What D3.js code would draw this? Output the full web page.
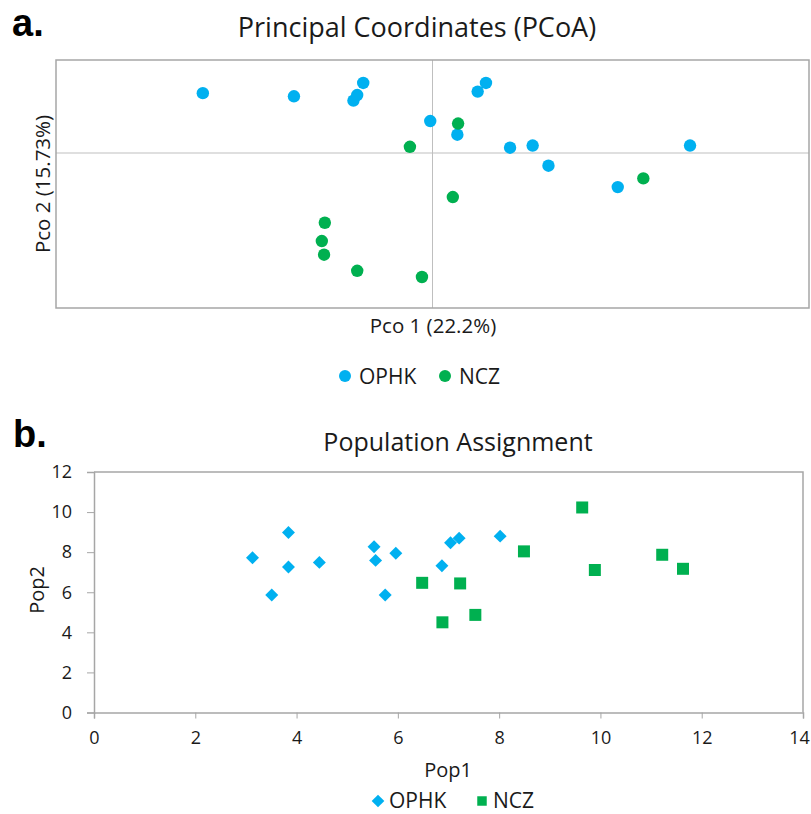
<!DOCTYPE html>
<html>
<head>
<meta charset="utf-8">
<script src="https://cdn.jsdelivr.net/npm/d3@7"></script>
<style>
  body { margin: 0; background: #fff; }
  text { font-family: "Open Sans", "Noto Sans", sans-serif; fill: #1a1a1a; }
  text.panel { font-family: "Liberation Sans", Arial, sans-serif; font-weight: bold; fill: #000; }
</style>
</head>
<body>
<div id="chart"></div>
<script>
const width = 811;
const height = 814;

const blue = "#00B0F0";
const green = "#00B050";

// panel a: PCoA scores (no scale shown)
const pcoaOPHK_x = [-0.305, -0.184, -0.105, -0.100, -0.092, -0.003, 0.033, 0.060, 0.071, 0.103, 0.133, 0.154, 0.246, 0.342];
const pcoaOPHK_y = [0.193, 0.183, 0.169, 0.187, 0.226, 0.103, 0.059, 0.198, 0.226, 0.017, 0.024, -0.041, -0.110, 0.024];
const pcoaNCZ_x = [-0.030, -0.143, -0.147, -0.144, -0.100, 0.034, 0.027, -0.014, 0.280];
const pcoaNCZ_y = [0.020, -0.225, -0.284, -0.328, -0.380, 0.095, -0.142, -0.400, -0.082];

// panel b: population assignment
const popOPHK_x = [3.13, 3.51, 3.84, 3.84, 4.45, 5.53, 5.56, 5.96, 5.75, 6.87, 7.04, 7.21, 8.02];
const popOPHK_y = [7.72, 5.86, 8.98, 7.26, 7.49, 8.27, 7.59, 7.95, 5.86, 7.32, 8.47, 8.70, 8.80];
const popNCZ_x = [6.48, 7.23, 6.88, 7.53, 8.49, 9.64, 9.89, 11.22, 11.63];
const popNCZ_y = [6.47, 6.44, 4.50, 4.87, 8.04, 10.23, 7.11, 7.87, 7.17];

const xTicks = [0, 2, 4, 6, 8, 10, 12, 14];
const yTicks = [0, 2, 4, 6, 8, 10, 12];

const series = ["OPHK", "NCZ"];

const svg = d3.select("#chart")
  .append("svg")
  .attr("width", width)
  .attr("height", height);

// ---------- panel a ----------
let ax = d3.scaleLinear().domain([-0.5, 0.5]).range([56, 809]);
let ay = d3.scaleLinear().domain([-0.5, 0.3]).range([308, 60]);

svg.append("text")
  .attr("class", "panel")
  .attr("x", 12).attr("y", 36)
  .style("font-size", "38px")
  .text("a.");

svg.append("text")
  .attr("x", 417).attr("y", 37)
  .attr("text-anchor", "middle")
  .style("font-size", "27px")
  .text("Principal Coordinates (PCoA)");

// zero lines
svg.append("line")
  .attr("x1", ax(-0.5)).attr("x2", ax(0.5))
  .attr("y1", ay(0)).attr("y2", ay(0))
  .attr("stroke", "#bfbfbf").attr("stroke-width", 1);
svg.append("line")
  .attr("x1", ax(0)).attr("x2", ax(0))
  .attr("y1", ay(-0.5)).attr("y2", ay(0.3))
  .attr("stroke", "#bfbfbf").attr("stroke-width", 1);

svg.append("rect")
  .attr("x", ax(-0.5)).attr("y", ay(0.3))
  .attr("width", ax(0.5) - ax(-0.5))
  .attr("height", ay(-0.5) - ay(0.3))
  .attr("fill", "none")
  .attr("stroke", "#a6a6a6").attr("stroke-width", 1.5);

svg.append("g").selectAll("circle")
  .data(d3.range(pcoaOPHK_x.length)).enter()
  .append("circle")
  .attr("cx", i => ax(pcoaOPHK_x[i]))
  .attr("cy", i => ay(pcoaOPHK_y[i]))
  .attr("r", 6.2)
  .attr("fill", blue);

svg.append("g").selectAll("circle")
  .data(d3.range(pcoaNCZ_x.length)).enter()
  .append("circle")
  .attr("cx", i => ax(pcoaNCZ_x[i]))
  .attr("cy", i => ay(pcoaNCZ_y[i]))
  .attr("r", 6.2)
  .attr("fill", green);

svg.append("text")
  .attr("x", 433).attr("y", 333)
  .attr("text-anchor", "middle")
  .style("font-size", "20.5px")
  .text("Pco 1 (22.2%)");

svg.append("text")
  .attr("transform", "rotate(-90)")
  .attr("x", -184).attr("y", 50)
  .attr("text-anchor", "middle")
  .style("font-size", "20.5px")
  .text("Pco 2 (15.73%)");

// legend a
const legA = svg.append("g");
[[345, blue, "OPHK"], [445, green, "NCZ"]].forEach(d => {
  legA.append("circle").attr("cx", d[0]).attr("cy", 376).attr("r", 6).attr("fill", d[1]);
  legA.append("text").attr("x", d[0] + 14).attr("y", 384)
    .style("font-size", "21px").text(d[2]);
});

// ---------- panel b ----------
let bx = d3.scaleLinear().domain([0, 14]).range([94, 803]);
let by = d3.scaleLinear().domain([0, 12]).range([712.5, 472]);

svg.append("text")
  .attr("class", "panel")
  .attr("x", 13).attr("y", 447)
  .style("font-size", "38px")
  .text("b.");

svg.append("text")
  .attr("x", 458).attr("y", 451)
  .attr("text-anchor", "middle")
  .style("font-size", "25px")
  .text("Population Assignment");

// plot border (top/right)
svg.append("path")
  .attr("d", `M${bx(0)},${by(12)}H${bx(14)}V${by(0)}`)
  .attr("fill", "none")
  .attr("stroke", "#a6a6a6").attr("stroke-width", 1.5);

const xAxis = svg.append("g")
  .attr("transform", `translate(0,${by(0)})`)
  .call(d3.axisBottom(bx).tickValues(xTicks).tickSize(6).tickPadding(13));
const yAxis = svg.append("g")
  .attr("transform", `translate(${bx(0)},0)`)
  .call(d3.axisLeft(by).tickValues(yTicks).tickSize(7).tickPadding(15));

[xAxis, yAxis].forEach(g => {
  g.select(".domain").attr("stroke", "#a6a6a6").attr("stroke-width", 1.5);
  g.selectAll(".tick line").attr("stroke", "#a6a6a6");
  g.selectAll(".tick text")
    .style("font-family", "'Open Sans', sans-serif")
    .style("font-size", "18px")
    .attr("fill", "#1a1a1a");
});
// last x label sits on the right edge, as in the source
xAxis.selectAll(".tick text").filter(d => d === 14).attr("dx", "-4");

svg.append("g").selectAll("path")
  .data(d3.range(popOPHK_x.length)).enter()
  .append("path")
  .attr("d", d3.symbol(d3.symbolSquare, 84))
  .attr("transform", i => `translate(${bx(popOPHK_x[i])},${by(popOPHK_y[i])}) rotate(45)`)
  .attr("fill", blue);

svg.append("g").selectAll("path")
  .data(d3.range(popNCZ_x.length)).enter()
  .append("path")
  .attr("d", d3.symbol(d3.symbolSquare, 144))
  .attr("transform", i => `translate(${bx(popNCZ_x[i])},${by(popNCZ_y[i])})`)
  .attr("fill", green);

svg.append("text")
  .attr("x", 448).attr("y", 777)
  .attr("text-anchor", "middle")
  .style("font-size", "20px")
  .text("Pop1");

svg.append("text")
  .attr("transform", "rotate(-90)")
  .attr("x", -590).attr("y", 44)
  .attr("text-anchor", "middle")
  .style("font-size", "20px")
  .text("Pop2");

// legend b
const legB = svg.append("g");
legB.append("path")
  .attr("d", d3.symbol(d3.symbolSquare, 80))
  .attr("transform", "translate(378,801) rotate(45)")
  .attr("fill", blue);
legB.append("text").attr("x", 389).attr("y", 808).style("font-size", "21px").text(series[0]);
legB.append("path")
  .attr("d", d3.symbol(d3.symbolSquare, 90))
  .attr("transform", "translate(482,801)")
  .attr("fill", green);
legB.append("text").attr("x", 493).attr("y", 808).style("font-size", "21px").text(series[1]);
</script>
</body>
</html>
